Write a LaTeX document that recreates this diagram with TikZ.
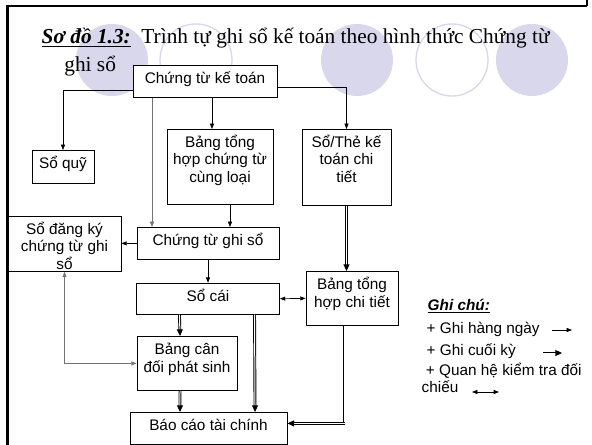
\documentclass[tikz,border=0pt]{standalone}
\usepackage{fontspec}
\setmainfont{Liberation Serif}
\setsansfont{Liberation Sans}
\usepackage{tikz}
\usetikzlibrary{positioning, arrows.meta, calc}

\definecolor{oaiHuong}{RGB}{216,215,236}
% nhieu dong, dong dau o tren
\newcommand{\khoi}[2][c]{\begin{tabular}[t]{@{}#1@{}}#2\end{tabular}}

\begin{document}
\begin{tikzpicture}[
            x={(0.75pt,0)}, y={(0,-0.75pt)},
            font=\sffamily,
            >={Triangle[length=4pt,width=3pt]},
            box/.style={draw, line width=0.6pt, fill=white, anchor=north,
                font=\sffamily\fontsize{11.5}{13.2}\selectfont,
                text height=10pt, inner ysep=3.5pt, inner xsep=2pt},
            arr/.style={->, line width=0.5pt},
            dbl/.style={double, double distance=0.75pt, line width=0.7pt, -{Triangle[length=5pt,width=4.5pt]}},
            doichieu/.style={<->, line width=0.5pt},
            leg/.style={anchor=base west, font=\sffamily\fontsize{11.5}{13.2}\selectfont}
        ]
        \useasboundingbox (0,0) rectangle (592,445);

        % --- Nen: cac vong tron trang tri ---
        \fill[oaiHuong] (112,60) circle (27pt);
        \draw[oaiHuong, line width=1pt] (196,60) circle (27pt);
        \fill[oaiHuong] (357,60) circle (27pt);
        \draw[oaiHuong, line width=1pt] (452,60) circle (27pt);
        \fill[oaiHuong] (532,60) circle (27pt);

        % --- Khung ---
        \draw[line width=1.5pt] (7,6) -- (587,6);
        \draw[line width=1.5pt] (587,0) -- (587,6);
        \draw[line width=2.25pt] (7.5,5) -- (7.5,445);

        % --- Tieu de ---
        \node[anchor=base west, font=\rmfamily\fontsize{16}{21}\selectfont] (tieude) at (37,44)
        {\khoi[l]{\underline{\textbf{\textit{Sơ đồ 1.3:}}}~~Trình tự ghi sổ kế toán theo hình thức Chứng từ\\
         \hspace*{17pt}ghi sổ}};

        % --- Cac so ---
        \node[box, minimum width=108pt, text depth=7pt] (ctkt) at (205,65) {Chứng từ kế toán};
        \node[box, minimum width=46.5pt, text depth=7.75pt] (soquy) at (63,150) {Sổ quỹ};
        \node[box, minimum width=79.5pt, text depth=39.25pt] (bangth) at (220,129) {\khoi{Bảng tổng\\hợp chứng từ\\cùng loại}};
        \node[box, minimum width=66.75pt, text depth=40pt] (sothe) at (346.5,129) {\khoi{Sổ/Thẻ kế\\toán chi\\tiết}};
        \node[box, minimum width=106.5pt, text depth=7pt] (ctgs) at (208,227) {Chứng từ ghi sổ};
        \node[box, minimum width=84.75pt, text depth=24.25pt] (sodk) at (64.5,216) {\khoi{Sổ đăng ký\\chứng từ ghi\\sổ}};
        \node[box, minimum width=107.25pt, text depth=6.25pt, below=17.25pt of ctgs] (socai) {Sổ cái};
        \node[box, minimum width=69pt, text depth=23.5pt] (bangct) at (352,271) {\khoi{Bảng tổng\\hợp chi tiết}};
        \node[box, minimum width=75pt, text depth=23.5pt] (bcd) at (187,336) {\khoi{Bảng cân\\đối phát sinh}};
        \node[box, minimum width=117.75pt, text depth=7pt] (bctc) at (208.5,412) {Báo cáo tài chính};

        % --- Ghi hang ngay ---
        \draw[arr] ([yshift=-6.75pt]ctkt.west) -| (soquy.north);
        \draw[arr] ([xshift=5.25pt]ctkt.south) -- ([xshift=-6pt]bangth.north);
        \draw[arr] ([yshift=-4.5pt]ctkt.east) -| (sothe.north);
        \draw[arr, black!55] ([xshift=-39.75pt]ctkt.south) -- ([xshift=-42pt]ctgs.north);
        \draw[arr] ([xshift=7.5pt]bangth.south) -- ([xshift=16.5pt]ctgs.north);
        \draw[arr] (ctgs.west) -- (ctgs.west -| sodk.east);
        \draw[arr] (ctgs.south) -- (ctgs.south |- socai.north);

        % --- Ghi cuoi ky ---
        \coordinate (raCT) at ([xshift=-6pt]bangct.south);
        \coordinate (vaoBC) at ([yshift=3.75pt]bctc.east);
        \coordinate (gocCT) at (raCT |- vaoBC);
        \draw[dbl] (sothe.south) -- (sothe.south |- bangct.north);
        \draw[double, double distance=0.75pt, line width=0.7pt] (raCT) -- ([yshift=-1.1pt]gocCT);
        \draw[dbl] ([xshift=1.1pt]gocCT) -- (vaoBC);
        \draw[dbl] ([xshift=-21.4pt]socai.south) -- ([xshift=-5.25pt]bcd.north);
        \draw[dbl] ([xshift=34.9pt]socai.south) -- ([xshift=34.9pt]bctc.north);
        \draw[dbl] ([xshift=-5.25pt]bcd.south) -- ([xshift=-21.4pt]bctc.north);

        % --- Doi chieu ---
        \draw[doichieu] (socai.east) -- (bangct.west);
        \draw[doichieu, black!55] (sodk.south) |- (bcd.west);

        % --- Ghi chu ---
        \node[leg, font=\sffamily\bfseries\itshape\fontsize{11.5}{13.2}\selectfont] (ghichu) at (423,310) {\underline{Ghi chú:}};
        \node[leg] (leg1) at (422,333) {+ Ghi hàng ngày};
        \node[leg] (leg2) at (422,355) {+ Ghi cuối kỳ};
        \node[leg] (leg3) at (417,375) {\khoi[l]{\ + Quan hệ kiểm tra đối\\chiếu}};
        \draw[arr] ($(leg1.base west)+(130,-3)$) -- ++(20,0);
        \draw[dbl] ($(leg2.base west)+(121,-2)$) -- ++(19,0);
        \draw[doichieu] ($(leg3.base west)+(55,17)$) -- ++(27,0);

\end{tikzpicture}
\end{document}
